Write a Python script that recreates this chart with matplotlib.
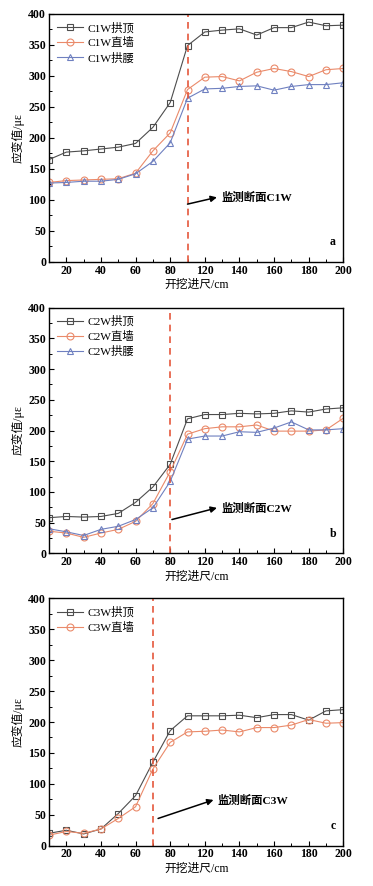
import matplotlib
matplotlib.use("Agg")
import matplotlib.pyplot as plt
from matplotlib.ticker import MultipleLocator, FixedLocator

plt.rcParams['font.family'] = ['Liberation Serif', 'Noto Sans CJK SC', 'DejaVu Sans']
plt.rcParams['axes.unicode_minus'] = False

# plotted positions of the excavation steps (axis labels below are as printed in the chart)
x_pos = [10, 20, 30, 40, 50, 60, 70, 80, 90, 100, 110, 120, 130, 140, 150, 160, 170, 180]
tick_pos = [20, 40, 60, 80, 100, 120, 140, 160, 180]
tick_labels = ['20', '40', '60', '80', '120', '140', '160', '180', '200']

# Panel a (C1W)
c1_top = [165, 177, 179, 182, 185, 191, 217, 257, 349, 371, 374, 376, 366, 378, 378, 387, 381, 382]
c1_wall = [128, 131, 132, 133, 134, 143, 179, 208, 278, 298, 299, 292, 306, 312, 307, 299, 310, 312]
c1_waist = [127, 128, 130, 130, 133, 142, 162, 192, 264, 279, 280, 283, 284, 277, 283, 286, 286, 289]

# Panel b (C2W)
c2_top = [58, 60, 59, 60, 65, 83, 108, 145, 219, 226, 226, 228, 227, 228, 232, 230, 235, 237]
c2_wall = [36, 33, 26, 33, 39, 52, 81, 133, 194, 203, 206, 206, 209, 199, 199, 199, 201, 220]
c2_waist = [40, 35, 29, 39, 44, 55, 74, 117, 186, 191, 191, 198, 197, 204, 214, 201, 201, 203]

# Panel c (C3W)
c3_top = [20, 25, 19, 27, 52, 81, 135, 186, 210, 210, 210, 211, 207, 212, 212, 203, 218, 220]
c3_wall = [17, 23, 20, 27, 44, 63, 124, 167, 184, 185, 187, 184, 191, 191, 195, 204, 198, 199]

monitor_x = [90, 80, 70]
panel_tags = ['a', 'b', 'c']
section_names = ['C1W', 'C2W', 'C3W']

COL_TOP = '#4d4d4d'
COL_WALL = '#ea8a6a'
COL_WAIST = '#6f80c0'
COL_DASH = '#e5583c'

fig = plt.figure(figsize=(3.73, 8.86), dpi=100)

rects = [
    [0.1314, 0.7046, 0.7890, 0.2796],
    [0.1314, 0.3755, 0.7890, 0.2772],
    [0.1314, 0.0455, 0.7890, 0.2792],
]

series = [
    [(c1_top, 's', COL_TOP, '拱顶'), (c1_wall, 'o', COL_WALL, '直墙'), (c1_waist, '^', COL_WAIST, '拱腰')],
    [(c2_top, 's', COL_TOP, '拱顶'), (c2_wall, 'o', COL_WALL, '直墙'), (c2_waist, '^', COL_WAIST, '拱腰')],
    [(c3_top, 's', COL_TOP, '拱顶'), (c3_wall, 'o', COL_WALL, '直墙')],
]

arrows = [
    ((90, 93), (107, 104)),
    ((81, 55), (107, 74)),
    ((73, 44), (105, 74)),
]

for i, ax_rect in enumerate(rects):
    ax = fig.add_axes(ax_rect)
    for vals, mk, col, name in series[i]:
        ax.plot(x_pos, vals, marker=mk, color=col, lw=0.8, ms=5.0,
                mfc='none', mec=col, mew=0.8,
                label=f'{section_names[i]}{name}')
    ax.axvline(monitor_x[i], color=COL_DASH, ls=(0, (4, 3)), lw=1.2)
    ax.set_xlim(10, 180)
    ax.set_ylim(0, 400)
    ax.xaxis.set_major_locator(FixedLocator(tick_pos))
    ax.set_xticklabels(tick_labels)
    ax.xaxis.set_minor_locator(MultipleLocator(10))
    ax.yaxis.set_major_locator(MultipleLocator(50))
    ax.yaxis.set_minor_locator(MultipleLocator(25))
    ax.tick_params(which='both', direction='in', top=False, right=False)
    ax.tick_params(which='major', length=3.5, width=0.8, labelsize=8.5, pad=2)
    ax.tick_params(which='minor', length=2, width=0.7)
    for lab in ax.get_xticklabels() + ax.get_yticklabels():
        lab.set_fontweight('bold')
    for sp in ax.spines.values():
        sp.set_linewidth(1.0)
    ax.set_xlabel('开挖进尺/cm', fontsize=8.5, labelpad=2)
    ax.set_ylabel('应变值/με', fontsize=8.5, labelpad=3)
    ax.legend(loc='upper left', frameon=False, fontsize=8.2,
              handlelength=2.3, handletextpad=0.4, labelspacing=0.35,
              borderaxespad=0.3, bbox_to_anchor=(0.0, 1.0))
    (x0, y0), (x1, y1) = arrows[i]
    ax.annotate('', xy=(x1, y1), xytext=(x0, y0),
                arrowprops=dict(arrowstyle='-|>', color='black', lw=1.1,
                                mutation_scale=9, shrinkA=0, shrinkB=0))
    ax.text(x1 + 2.5, y1, f'监测断面{section_names[i]}', fontsize=8.2,
            va='center', ha='left', fontweight='bold')
    ax.text(0.975, 0.055, panel_tags[i], transform=ax.transAxes,
            ha='right', va='bottom', fontsize=8.5, fontweight='bold')

fig.savefig('out.png', dpi=100, facecolor='white')
